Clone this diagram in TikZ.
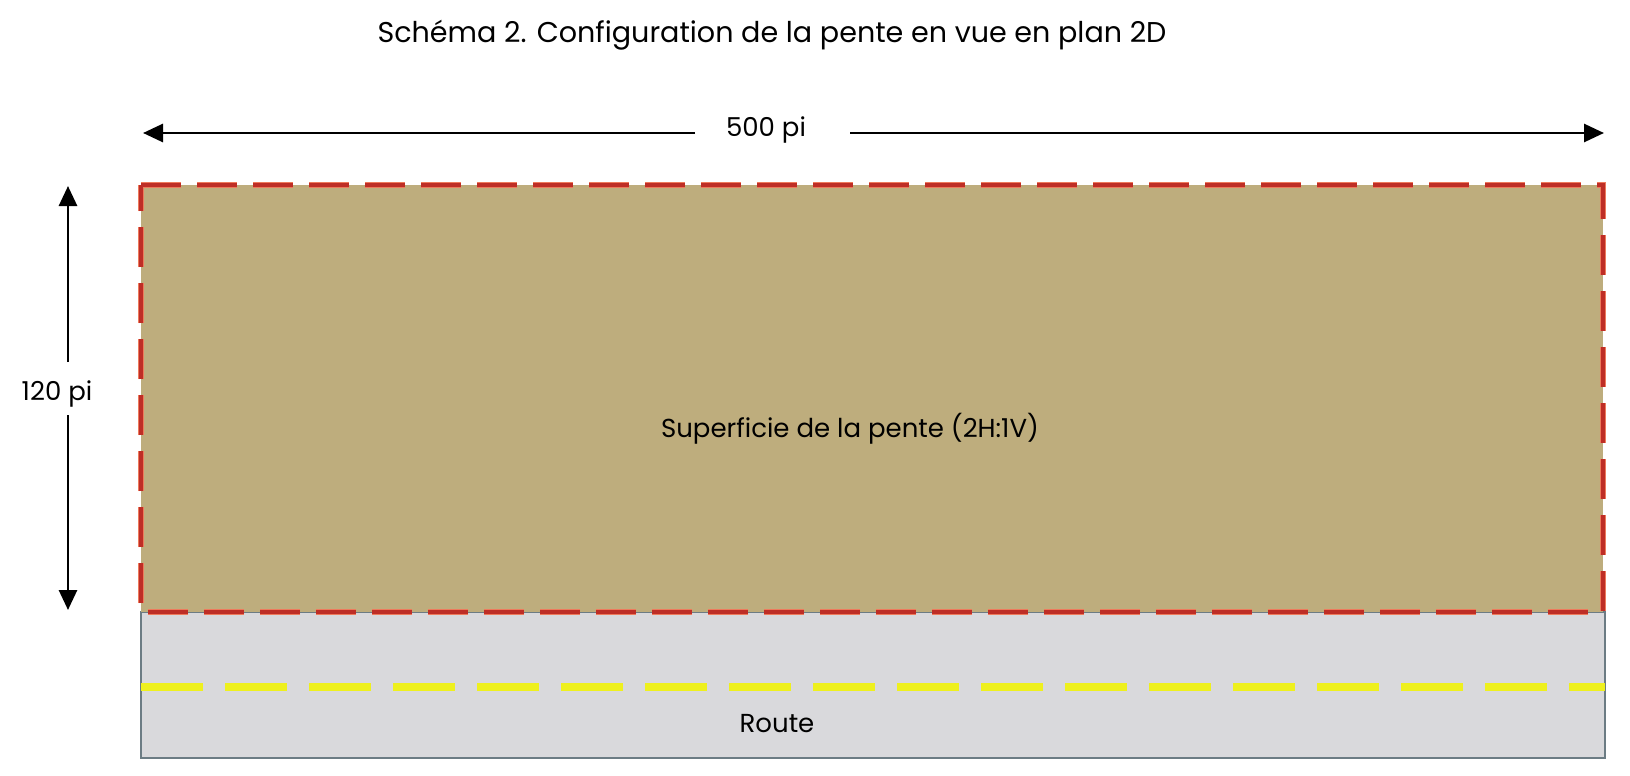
\documentclass[tikz,border=0pt]{standalone}
\usepackage{fontspec}
\setmainfont{Poppins}
\usetikzlibrary{arrows.meta}
\definecolor{slopefill}{HTML}{BEAD7D}
\definecolor{slopered}{HTML}{BE2E26}
\definecolor{salmon}{HTML}{EE7A5C}
\definecolor{roadfill}{HTML}{D9D9DC}
\definecolor{roadedge}{HTML}{6C7C84}
\definecolor{lineyellow}{HTML}{EEF01E}
\tikzset{
  dimarrow/.style={line width=1.4pt,-{Triangle[length=10pt,width=9pt]}},
  lbl/.style={font=\fontsize{13}{15}\selectfont, inner sep=0pt, anchor=base},
  redgl/.style={salmon, line width=3.2pt, dash pattern=on 20pt off 8pt},
  redln/.style={slopered, line width=2pt, dash pattern=on 20pt off 8pt},
  yellowln/.style={lineyellow, line width=4pt, dash pattern=on 31pt off 11pt},
}
\begin{document}
\begin{tikzpicture}[x=0.5pt,y=-0.5pt]
\useasboundingbox (0,0) rectangle (1630,776);
\fill[white] (0,0) rectangle (1630,776);
% title
\node[font=\fontsize{14.3}{17}\selectfont, inner sep=0pt, anchor=base] (title) at (772,42) {Schéma 2. Configuration de la pente en vue en plan 2D};
% road
\coordinate (rNW) at (141,612);
\coordinate (rSE) at (1605,758);
\fill[roadfill] (rNW) rectangle (rSE);
\draw[roadedge, line width=1pt] (rNW) rectangle (rSE);
\coordinate (yL) at (141,687);
\coordinate (yR) at (1605,687);
\draw[yellowln] (yL) -- (yR);
\node[lbl] (route) at (777,732) {Route};
% slope
\coordinate (sNW) at (141,185);
\coordinate (sSE) at (1603,612);
\fill[slopefill] (sNW) rectangle (sSE);
\draw[redgl] (sNW) -- (sNW -| sSE) -- (sSE) -- (sSE -| sNW) -- cycle;
\draw[redln] (sNW) -- (sNW -| sSE) -- (sSE) -- (sSE -| sNW) -- cycle;
\node[lbl] (slope) at (850,437) {Superficie de la pente (2H:1V)};
% horizontal dimension
\coordinate (hL) at (143,133);
\coordinate (hR) at (1604,133);
\coordinate (hg1) at (695,133);
\coordinate (hg2) at (850,133);
\node[lbl] (w500) at (766,136) {500 pi};
\draw[dimarrow] (hg1) -- (hL);
\draw[dimarrow] (hg2) -- (hR);
% vertical dimension
\coordinate (vT) at (68,186);
\coordinate (vB) at (68,610);
\coordinate (vg1) at (68,362);
\coordinate (vg2) at (68,415);
\node[lbl] (h120) at (57,400) {120 pi};
\draw[dimarrow] (vg1) -- (vT);
\draw[dimarrow] (vg2) -- (vB);
\end{tikzpicture}
\end{document}
